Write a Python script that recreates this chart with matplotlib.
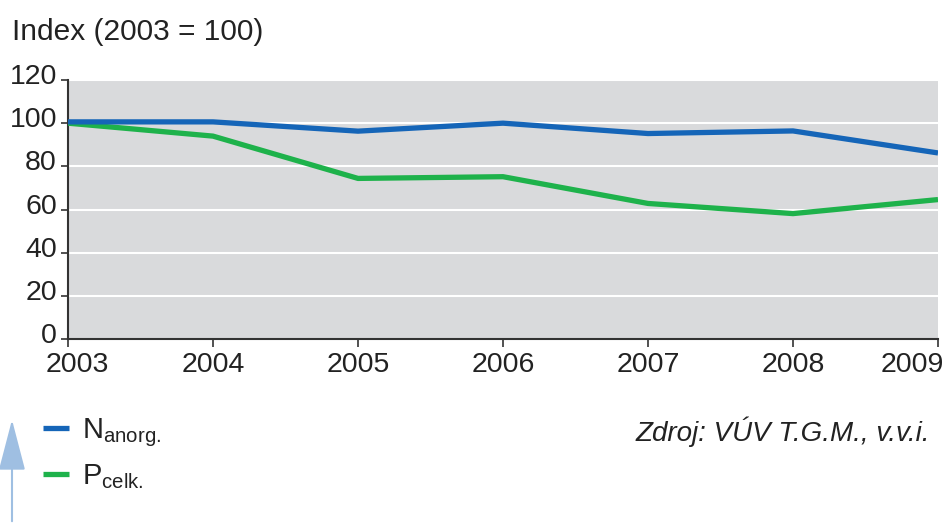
import matplotlib
matplotlib.use("Agg")
import matplotlib.pyplot as plt
from matplotlib.transforms import ScaledTranslation
from matplotlib.patches import FancyArrowPatch

# Data
years = [2003, 2004, 2005, 2006, 2007, 2008, 2009]
n_anorg = [100.6, 100.6, 96.3, 100.0, 95.2, 96.4, 86.2]
p_celk = [100.0, 94.0, 74.4, 75.2, 62.8, 58.1, 64.6]
y_ticks = [0, 20, 40, 60, 80, 100, 120]

blue = "#1565b8"
green = "#1eb24b"
text_col = "#222222"

plt.rcParams['font.family'] = ['Liberation Sans', 'DejaVu Sans']
plt.rcParams['mathtext.fontset'] = 'custom'
plt.rcParams['mathtext.rm'] = 'Liberation Sans'
plt.rcParams['mathtext.it'] = 'Liberation Sans:italic'

fig = plt.figure(figsize=(9.46, 5.24), dpi=100)
ax = fig.add_axes([68 / 946, 1 - 339 / 524, 870 / 946, 259 / 524])
ax.set_facecolor("#d9dadc")

ax.plot(years, p_celk, color=green, lw=3.8, solid_capstyle='butt',
        label=r'$\mathrm{P}_{\mathrm{celk.}}$', zorder=3)
ax.plot(years, n_anorg, color=blue, lw=3.8, solid_capstyle='butt',
        label=r'$\mathrm{N}_{\mathrm{anorg.}}$', zorder=4)

ax.set_xlim(2003, 2009)
ax.set_ylim(0, 120)
ax.set_xticks(years)
ax.set_yticks(y_ticks)
ax.yaxis.grid(True, color="white", lw=1.5)
ax.set_axisbelow(True)

for s in ['top', 'right']:
    ax.spines[s].set_visible(False)
for s in ['left', 'bottom']:
    ax.spines[s].set_color("#333333")
    ax.spines[s].set_linewidth(1.5)

ax.tick_params(axis='x', direction='out', length=6, width=1.2, color="#333333",
               labelsize=20.5, labelcolor=text_col, pad=3)
ax.tick_params(axis='y', direction='out', length=5, width=1.2, color="#333333",
               labelsize=20.5, labelcolor=text_col, pad=3)

# posun popisků
for lab in ax.get_yticklabels():
    lab.set_transform(lab.get_transform() + ScaledTranslation(0, 6 / 100, fig.dpi_scale_trans))
xl = ax.get_xticklabels()
xl[0].set_transform(xl[0].get_transform() + ScaledTranslation(9 / 100, 0, fig.dpi_scale_trans))
xl[-1].set_transform(xl[-1].get_transform() + ScaledTranslation(-26 / 100, 0, fig.dpi_scale_trans))

fig.text(12 / 946, 1 - 32 / 524, "Index (2003 = 100)", fontsize=21.5, color=text_col,
         ha='left', va='center')

handles, labels = ax.get_legend_handles_labels()
leg = ax.legend(handles[::-1], labels[::-1], loc='upper left',
                bbox_to_anchor=(43 / 946, 1 - 416 / 524), bbox_transform=fig.transFigure,
                frameon=False, fontsize=21, handlelength=0.9, handletextpad=0.45,
                labelspacing=0.45, borderpad=0, borderaxespad=0)
for t in leg.get_texts():
    t.set_color(text_col)

fig.text(930 / 946, 1 - 432 / 524, "Zdroj: VÚV T.G.M., v.v.i.", fontsize=20,
         style='italic', color=text_col, ha='right', va='center')

arrow = FancyArrowPatch((12 / 946, 0.0), (12 / 946, 1 - 417 / 524),
                        transform=fig.transFigure, arrowstyle='-|>,head_length=2.3,head_width=0.6',
                        color="#9fbfe2", lw=1.5, mutation_scale=14)
fig.patches.append(arrow)

fig.savefig("out.png", dpi=100)
